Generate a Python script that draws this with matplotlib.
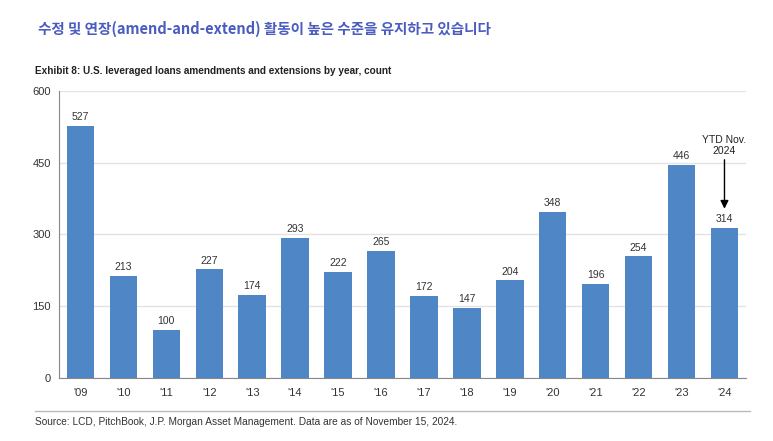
import matplotlib.pyplot as plt
from matplotlib.lines import Line2D

plt.rcParams['font.family'] = ['Noto Sans CJK KR', 'DejaVu Sans']

years = ["'09", "'10", "'11", "'12", "'13", "'14", "'15", "'16",
         "'17", "'18", "'19", "'20", "'21", "'22", "'23", "'24"]
counts = [527, 213, 100, 227, 174, 293, 222, 265,
          172, 147, 204, 348, 196, 254, 446, 314]
yticks = [0, 150, 300, 450, 600]

fig = plt.figure(figsize=(7.73, 4.41), dpi=100)
ax = fig.add_axes([0.0763, 0.1429, 0.8887, 0.6508])

x = range(len(years))
bars = ax.bar(x, counts, width=0.64, color='#4f86c6', zorder=3)
for xi, v in zip(x, counts):
    ax.text(xi, v + 8, str(v), ha='center', va='bottom', fontsize=7.5,
            color='#333333', family=['Liberation Sans', 'DejaVu Sans'])

ax.set_xlim(-0.5, len(years) - 0.5)
ax.set_ylim(0, 600)
ax.set_yticks(yticks)
ax.set_xticks(list(x))
ax.set_xticklabels(years)
ax.yaxis.grid(True, color='#e3e3e3', linewidth=1, zorder=0)
for s in ['top', 'right']:
    ax.spines[s].set_visible(False)
ax.spines['left'].set_color('#888888')
ax.spines['bottom'].set_color('#888888')
ax.tick_params(length=0, labelsize=8, colors='#333333', pad=7)
ax.tick_params(axis='y', pad=6)
for lab in ax.get_xticklabels() + ax.get_yticklabels():
    lab.set_family(['Liberation Sans', 'DejaVu Sans'])

# YTD annotation on last bar
last = len(years) - 1
ax.annotate('', xy=(last, counts[last] + 34), xytext=(last, 462),
            arrowprops=dict(arrowstyle='-|>', color='black', lw=1,
                            mutation_scale=12))
ax.text(last, 465, 'YTD Nov.\n2024', ha='center', va='bottom', fontsize=7.5,
        linespacing=1.1, color='#222222',
        family=['Liberation Sans', 'DejaVu Sans'])

fig.text(0.049, 0.935, '수정 및 연장(amend-and-extend) 활동이 높은 수준을 유지하고 있습니다',
         fontsize=10.5, fontweight='bold', color='#4a5cc0', va='center')
fig.text(0.045, 0.838, 'Exhibit 8: U.S. leveraged loans amendments and extensions by year, count',
         fontsize=7.2, fontweight='bold', color='#222222', va='center',
         family=['Liberation Sans', 'DejaVu Sans'])
fig.text(0.045, 0.043, 'Source: LCD, PitchBook, J.P. Morgan Asset Management. Data are as of November 15, 2024.',
         fontsize=7.3, color='#333333', va='center',
         family=['Liberation Sans', 'DejaVu Sans'])
fig.add_artist(Line2D([0.045, 0.97], [0.068, 0.068], color='#bbbbbb', lw=1))

fig.savefig('out.png', dpi=100)
